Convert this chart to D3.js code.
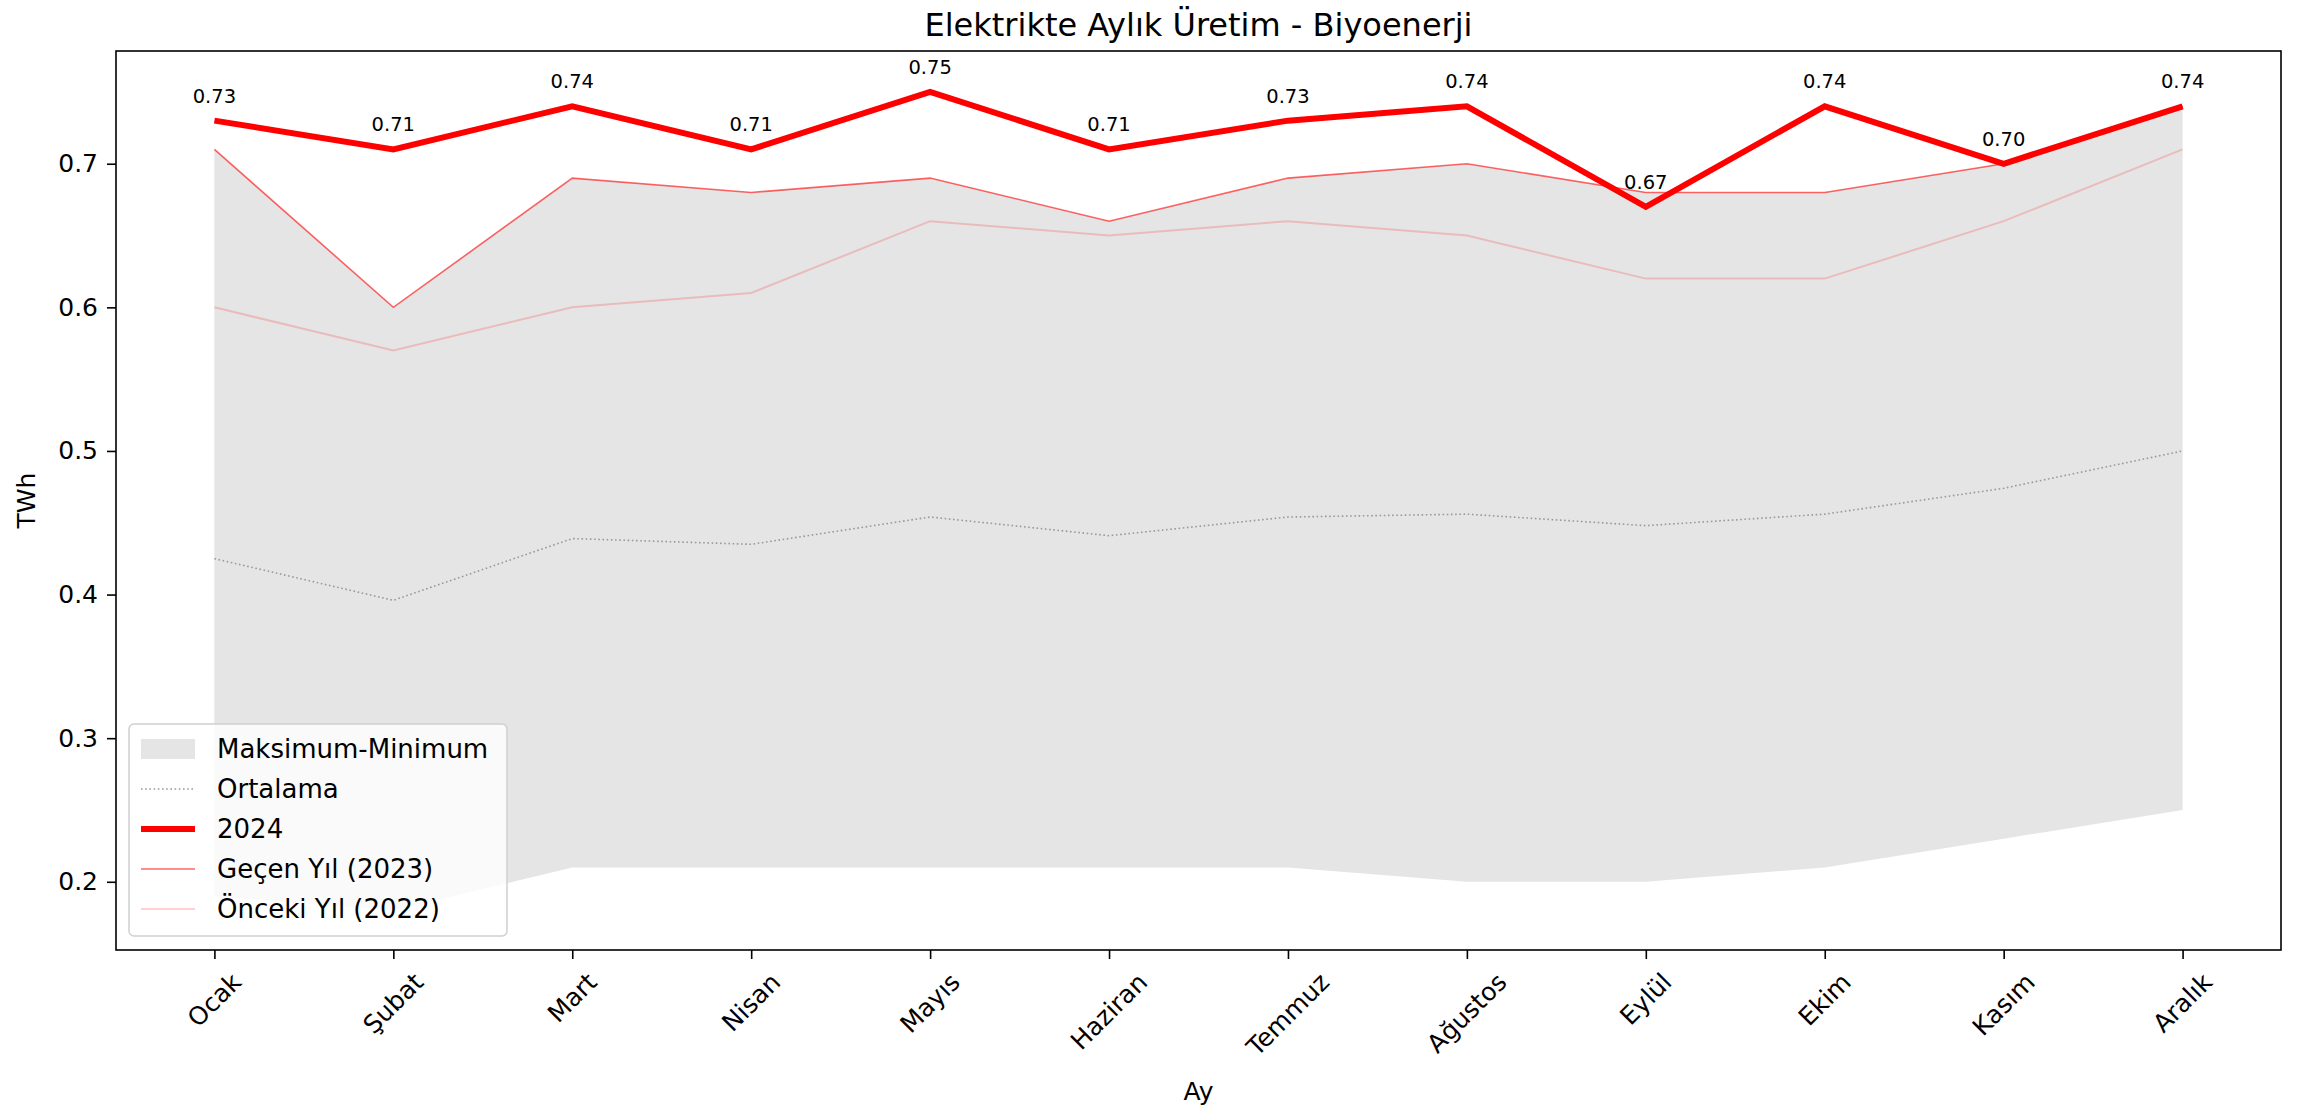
<!DOCTYPE html>
<html>
<head>
<meta charset="utf-8">
<script src="https://cdn.jsdelivr.net/npm/d3@7"></script>
<style>
  body { margin: 0; background: #fff; }
  svg text { font-family: "DejaVu Sans", sans-serif; fill: #000; }
</style>
</head>
<body>
<svg width="2303" height="1107"></svg>
<script>
const months = ["Ocak", "Şubat", "Mart", "Nisan", "Mayıs", "Haziran",
  "Temmuz", "Ağustos", "Eylül", "Ekim", "Kasım", "Aralık"];
const values2024 = [0.73, 0.71, 0.74, 0.71, 0.75, 0.71, 0.73, 0.74, 0.67, 0.74, 0.70, 0.74];
const values2023 = [0.71, 0.60, 0.69, 0.68, 0.69, 0.66, 0.69, 0.70, 0.68, 0.68, 0.70, 0.74];
const values2022 = [0.60, 0.57, 0.60, 0.61, 0.66, 0.65, 0.66, 0.65, 0.62, 0.62, 0.66, 0.71];
const bandMax = [0.71, 0.60, 0.69, 0.68, 0.69, 0.66, 0.69, 0.70, 0.68, 0.68, 0.70, 0.74];
const bandMin = [0.19, 0.18, 0.21, 0.21, 0.21, 0.21, 0.21, 0.20, 0.20, 0.21, 0.23, 0.25];
const meanValues = [0.425, 0.396, 0.439, 0.435, 0.454, 0.441, 0.454, 0.456, 0.448, 0.456, 0.474, 0.500];
const yTicks = [0.2, 0.3, 0.4, 0.5, 0.6, 0.7];

const svg = d3.select("svg");
const margin = { left: 116, right: 22, top: 51, bottom: 157 };
const width = 2303, height = 1107;
const plotW = width - margin.left - margin.right;
const plotH = height - margin.top - margin.bottom;

const x = d3.scaleLinear().domain([-0.55, 11.55]).range([0, plotW]);
const y = d3.scaleLinear().domain([0.1525, 0.7785]).range([plotH, 0]);

const g = svg.append("g").attr("transform", `translate(${margin.left},${margin.top})`);

const idx = d3.range(months.length);

// max-min band
g.append("path")
  .datum(idx)
  .attr("fill", "#e5e5e5")
  .attr("d", d3.area().x((i) => x(i)).y0((i) => y(bandMin[i])).y1((i) => y(bandMax[i])));

const line = (arr) => d3.line().x((i) => x(i)).y((i) => y(arr[i]))(idx);

g.append("path").attr("d", line(meanValues)).attr("fill", "none")
  .attr("stroke", "#999").attr("stroke-width", 1.6).attr("stroke-dasharray", "1.6,2.6");
g.append("path").attr("d", line(values2022)).attr("fill", "none")
  .attr("stroke", "rgba(255,0,0,0.18)").attr("stroke-width", 2);
g.append("path").attr("d", line(values2023)).attr("fill", "none")
  .attr("stroke", "rgba(255,0,0,0.6)").attr("stroke-width", 1.6);
g.append("path").attr("d", line(values2024)).attr("fill", "none")
  .attr("stroke", "#ff0000").attr("stroke-width", 6).attr("stroke-linejoin", "miter");

// value labels
g.selectAll("text.val")
  .data(idx)
  .join("text")
  .attr("class", "val")
  .attr("x", (i) => x(i))
  .attr("y", (i) => y(values2024[i]) - 18)
  .attr("text-anchor", "middle")
  .attr("font-size", 19.5)
  .text((i) => values2024[i].toFixed(2));

// axes
const yAxis = g.append("g").call(d3.axisLeft(y).tickValues(yTicks).tickFormat(d3.format(".1f")).tickSize(9).tickPadding(9));
yAxis.select(".domain").remove();
yAxis.selectAll("text").attr("font-size", 25);
yAxis.selectAll("line").attr("stroke-width", 1.6);

const xAxis = g.append("g").attr("transform", `translate(0,${plotH})`)
  .call(d3.axisBottom(x).tickValues(idx).tickFormat("").tickSize(9));
xAxis.select(".domain").remove();
xAxis.selectAll("line").attr("stroke-width", 1.6);

// rotated month labels (centered, like matplotlib rotation=45)
const labelTop = plotH + 9 + 9;
const lbl = g.append("g");
idx.forEach((i) => {
  const t = lbl.append("text").attr("font-size", 25).text(months[i])
    .attr("text-anchor", "middle").attr("dominant-baseline", "central");
  const w = t.node().getComputedTextLength();
  const h = 25 * 1.1;
  const half = (w + h) * Math.SQRT1_2 / 2;
  t.attr("transform", `translate(${x(i)},${labelTop + half}) rotate(-45)`);
});

// frame
g.append("rect").attr("width", plotW).attr("height", plotH)
  .attr("fill", "none").attr("stroke", "#000").attr("stroke-width", 1.6);

// titles
svg.append("text").attr("x", margin.left + plotW / 2).attr("y", 36)
  .attr("text-anchor", "middle").attr("font-size", 32).text("Elektrikte Aylık Üretim - Biyoenerji");
svg.append("text").attr("x", margin.left + plotW / 2).attr("y", 1100)
  .attr("text-anchor", "middle").attr("font-size", 25).text("Ay");
svg.append("text").attr("transform", `translate(35,${margin.top + plotH / 2}) rotate(-90)`)
  .attr("text-anchor", "middle").attr("font-size", 25).text("TWh");

// legend
const legendItems = [
  { label: "Maksimum-Minimum", type: "band" },
  { label: "Ortalama", type: "mean" },
  { label: "2024", type: "y2024" },
  { label: "Geçen Yıl (2023)", type: "y2023" },
  { label: "Önceki Yıl (2022)", type: "y2022" },
];
const lg = svg.append("g").attr("transform", "translate(129,724)");
lg.append("rect").attr("width", 378).attr("height", 212).attr("rx", 5)
  .attr("fill", "rgba(255,255,255,0.8)").attr("stroke", "#d0d0d0").attr("stroke-width", 1.5);
legendItems.forEach((d, k) => {
  const cy = 25 + k * 40;
  const row = lg.append("g").attr("transform", `translate(0,${cy})`);
  if (d.type === "band") {
    row.append("rect").attr("x", 12).attr("y", -10).attr("width", 54).attr("height", 20).attr("fill", "#e5e5e5");
  } else {
    const st = {
      mean: ["#999", 1.6, "1.6,2.6"],
      y2024: ["#ff0000", 6, null],
      y2023: ["rgba(255,0,0,0.6)", 1.6, null],
      y2022: ["rgba(255,0,0,0.18)", 2, null],
    }[d.type];
    row.append("line").attr("x1", 12).attr("x2", 66).attr("stroke", st[0])
      .attr("stroke-width", st[1]).attr("stroke-dasharray", st[2]);
  }
  row.append("text").attr("x", 88).attr("dy", "0.35em").attr("font-size", 26).text(d.label);
});
</script>
</body>
</html>
